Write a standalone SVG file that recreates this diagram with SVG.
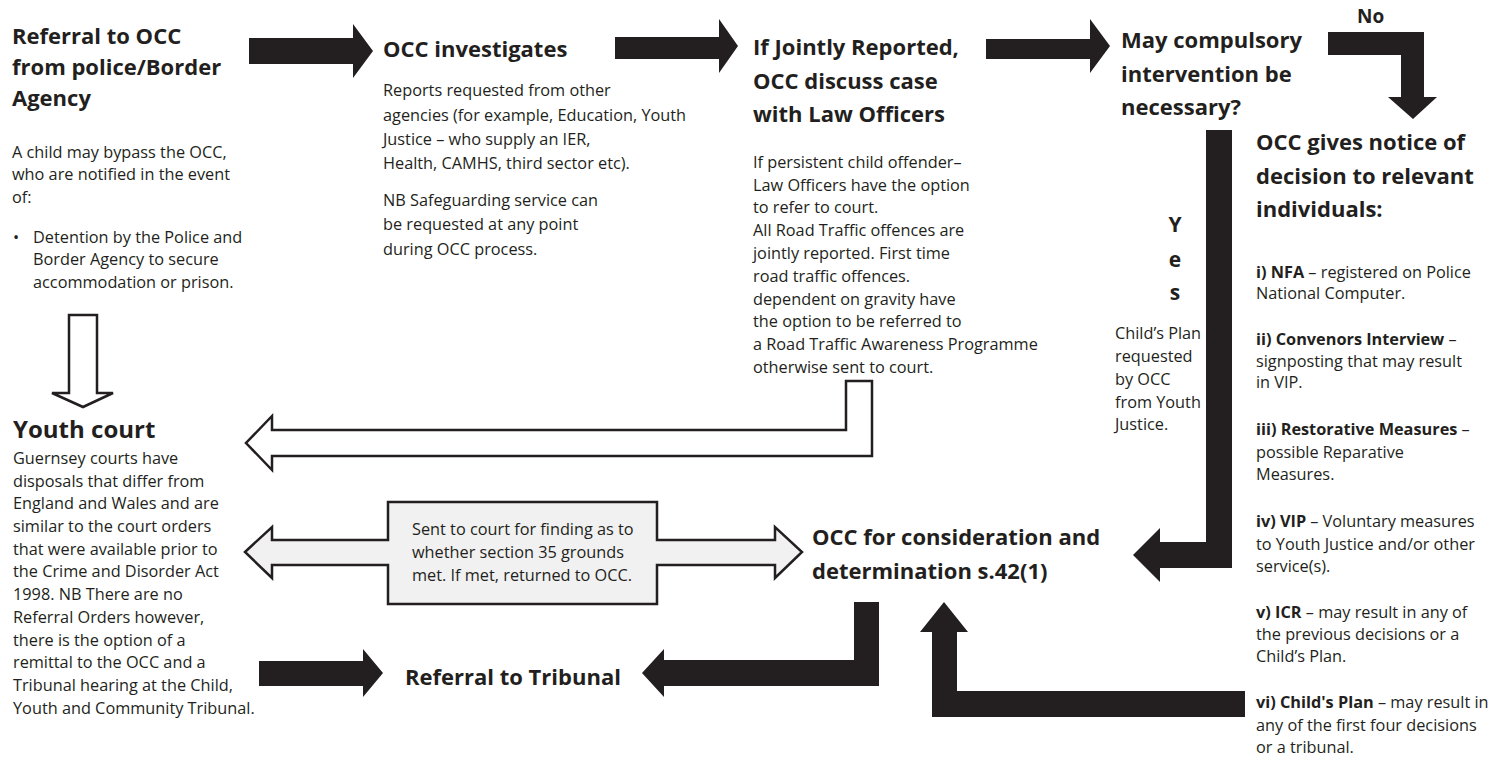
<svg xmlns="http://www.w3.org/2000/svg" width="1504" height="759" viewBox="0 0 1504 759">
<style>
text{font-family:"Open Sans","Noto Sans",sans-serif;fill:#231f20}
.t{font-size:22px;font-weight:700}
.b{font-size:16.3px}
.s{font-size:16.3px}
.bd{font-weight:700}
.blk{fill:#231f20;stroke:none}
.hol{fill:#fff;stroke:#231f20;stroke-width:2.5;stroke-linejoin:miter}
.gry{fill:#f1f1f1;stroke:#231f20;stroke-width:2.5;stroke-linejoin:miter}
</style>
<rect width="1504" height="759" fill="#fff"/>

<g id="connectors">
  <polygon class="blk" points="249,38 353,38 353,24 373,51 353,78 353,64 249,64"/>
  <polygon class="blk" points="615,37 719,37 719,19 738,46 719,73 719,59 615,59"/>
  <polygon class="blk" points="986,39 1090,39 1090,19 1110,46 1090,73 1090,59 986,59"/>
  <polygon class="blk" points="1328,32 1424,32 1424,97 1437,97 1413,119 1388,97 1401,97 1401,55 1328,55"/>
  <polygon class="blk" points="1206,130 1232,130 1232,568 1160,568 1160,582 1133,555 1160,528 1160,542 1206,542"/>
  <polygon class="blk" points="1245,691 1245,717 932,717 932,632 920,632 944,602 968,632 957,632 957,691"/>
  <polygon class="blk" points="854,602 879,602 879,686 664,686 664,697 642,673 664,649 664,660 854,660"/>
  <polygon class="blk" points="259,661 363,661 363,649 383,673 363,697 363,686 259,686"/>
  <polygon class="hol" points="69,315 97,315 97,393 113,393 83,407 52,393 69,393"/>
  <polygon class="hol" points="846,381 872,381 872,456 272,456 272,470 246,443 272,416 272,430 846,430"/>
  <polygon class="gry" points="245,552 272,527 272,540 388,540 388,502 657,502 657,540 775,540 775,527 802,552 775,578 775,565 657,565 657,604 388,604 388,565 272,565 272,578"/>
</g>

<g id="referral">
  <text class="t" x="12" y="44">Referral to OCC</text>
  <text class="t" x="12" y="75">from police/Border</text>
  <text class="t" x="12" y="106">Agency</text>
  <text class="b" x="12" y="158">A child may bypass the OCC,</text>
  <text class="b" x="12" y="180">who are notified in the event</text>
  <text class="b" x="12" y="203">of:</text>
  <text class="b" x="13" y="243">•</text>
  <text class="b" x="33" y="243">Detention by the Police and</text>
  <text class="b" x="33" y="265">Border Agency to secure</text>
  <text class="b" x="33" y="288">accommodation or prison.</text>
</g>

<g id="investigates">
  <text class="t" x="383" y="57">OCC investigates</text>
  <text class="b" x="383" y="96">Reports requested from other</text>
  <text class="b" x="383" y="121">agencies (for example, Education, Youth</text>
  <text class="b" x="383" y="145">Justice – who supply an IER,</text>
  <text class="b" x="383" y="169">Health, CAMHS, third sector etc).</text>
  <text class="b" x="383" y="206">NB Safeguarding service can</text>
  <text class="b" x="383" y="230">be requested at any point</text>
  <text class="b" x="383" y="255">during OCC process.</text>
</g>

<g id="jointly">
  <text class="t" x="753" y="55">If Jointly Reported,</text>
  <text class="t" x="753" y="89">OCC discuss case</text>
  <text class="t" x="753" y="122">with Law Officers</text>
  <text class="s" x="753" y="168">If persistent child offender–</text>
  <text class="s" x="753" y="191">Law Officers have the option</text>
  <text class="s" x="753" y="213">to refer to court.</text>
  <text class="s" x="753" y="236">All Road Traffic offences are</text>
  <text class="s" x="753" y="259">jointly reported. First time</text>
  <text class="s" x="753" y="282">road traffic offences.</text>
  <text class="s" x="753" y="305">dependent on gravity have</text>
  <text class="s" x="753" y="327">the option to be referred to</text>
  <text class="s" x="753" y="350">a Road Traffic Awareness Programme</text>
  <text class="s" x="753" y="373">otherwise sent to court.</text>
</g>

<g id="compulsory">
  <text class="t" x="1121" y="48">May compulsory</text>
  <text class="t" x="1121" y="82">intervention be</text>
  <text class="t" x="1121" y="115">necessary?</text>
</g>

<g id="no-label">
  <text class="bd" x="1357" y="23" style="font-size:19px">No</text>
</g>

<g id="yes-label">
  <text class="bd" x="1175" y="232" text-anchor="middle" style="font-size:21px">Y</text>
  <text class="bd" x="1175" y="267" text-anchor="middle" style="font-size:21px">e</text>
  <text class="bd" x="1175" y="300" text-anchor="middle" style="font-size:21px">s</text>
  <text class="b" x="1115" y="339">Child’s Plan</text>
  <text class="b" x="1115" y="362">requested</text>
  <text class="b" x="1115" y="385">by OCC</text>
  <text class="b" x="1115" y="408">from Youth</text>
  <text class="b" x="1115" y="430">Justice.</text>
</g>

<g id="notice">
  <text class="t" x="1256" y="150">OCC gives notice of</text>
  <text class="t" x="1256" y="184">decision to relevant</text>
  <text class="t" x="1256" y="217">individuals:</text>
  <text class="s" x="1256" y="278"><tspan class="bd">i) NFA</tspan> – registered on Police</text>
  <text class="s" x="1256" y="299">National Computer.</text>
  <text class="s" x="1256" y="345"><tspan class="bd">ii) Convenors Interview</tspan> –</text>
  <text class="s" x="1256" y="367">signposting that may result</text>
  <text class="s" x="1256" y="388">in VIP.</text>
  <text class="s" x="1256" y="435"><tspan class="bd">iii) Restorative Measures</tspan> –</text>
  <text class="s" x="1256" y="458">possible Reparative</text>
  <text class="s" x="1256" y="480">Measures.</text>
  <text class="s" x="1256" y="527"><tspan class="bd">iv) VIP</tspan><tspan dx="4">– Voluntary measures</tspan></text>
  <text class="s" x="1256" y="550">to Youth Justice and/or other</text>
  <text class="s" x="1256" y="572">service(s).</text>
  <text class="s" x="1256" y="618"><tspan class="bd">v) ICR</tspan> – may result in any of</text>
  <text class="s" x="1256" y="640">the previous decisions or a</text>
  <text class="s" x="1256" y="662">Child’s Plan.</text>
  <text class="s" x="1256" y="708"><tspan class="bd">vi) Child's Plan</tspan> – may result in</text>
  <text class="s" x="1256" y="731">any of the first four decisions</text>
  <text class="s" x="1256" y="753">or a tribunal.</text>
</g>

<g id="youth-court">
  <text x="13" y="438" style="font-size:24px;font-weight:700">Youth court</text>
  <text class="b" x="13" y="464">Guernsey courts have</text>
  <text class="b" x="13" y="487">disposals that differ from</text>
  <text class="b" x="13" y="509">England and Wales and are</text>
  <text class="b" x="13" y="532">similar to the court orders</text>
  <text class="b" x="13" y="555">that were available prior to</text>
  <text class="b" x="13" y="577">the Crime and Disorder Act</text>
  <text class="b" x="13" y="600">1998. NB There are no</text>
  <text class="b" x="13" y="623">Referral Orders however,</text>
  <text class="b" x="13" y="646">there is the option of a</text>
  <text class="b" x="13" y="668">remittal to the OCC and a</text>
  <text class="b" x="13" y="691">Tribunal hearing at the Child,</text>
  <text class="b" x="13" y="714">Youth and Community Tribunal.</text>
</g>

<g id="court-finding">
  <text class="b" x="412" y="535">Sent to court for finding as to</text>
  <text class="b" x="412" y="558">whether section 35 grounds</text>
  <text class="b" x="412" y="581">met. If met, returned to OCC.</text>
</g>

<g id="consideration">
  <text class="t" x="812" y="545">OCC for consideration and</text>
  <text class="t" x="812" y="579">determination s.42(1)</text>
</g>

<g id="tribunal">
  <text class="t" x="405" y="685">Referral to Tribunal</text>
</g>
</svg>
